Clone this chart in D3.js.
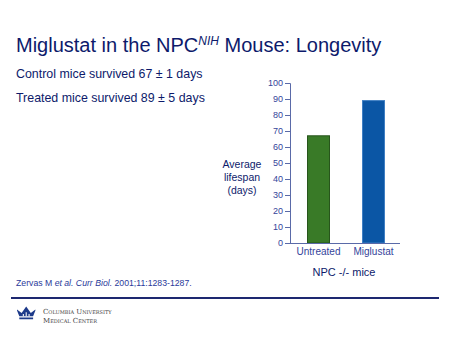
<!DOCTYPE html>
<html>
<head>
<meta charset="utf-8">
<script src="https://cdn.jsdelivr.net/npm/d3@7"></script>
<style>
  body { margin: 0; background: #fff; }
  svg { display: block; font-family: Arial, "Liberation Sans", sans-serif; }
</style>
</head>
<body>
<div id="chart"></div>
<script>
// data
var groups = ["Untreated", "Miglustat"];
var lifespan = [67, 89];
var barColors = ["#397a27", "#0b56a5"];
var barEdges = ["#27551b", "#3f7fc4"];
var yTicks = [0, 10, 20, 30, 40, 50, 60, 70, 80, 90, 100];

var width = 450, height = 338;
var navy = "#0d1a6b";
var font = "Arial, 'Liberation Sans', sans-serif";

var svg = d3.select("#chart").append("svg")
  .attr("width", width)
  .attr("height", height);

// title
var title = svg.append("text")
  .attr("x", 16).attr("y", 52)
  .style("font-size", "20px")
  .style("fill", navy);
title.append("tspan").text("Miglustat in the NPC");
title.append("tspan").attr("dy", -7).style("font-size", "12px").style("font-style", "italic").text("NIH");
title.append("tspan").attr("dy", 7).text(" Mouse: Longevity");

svg.append("text").attr("x", 16).attr("y", 78)
  .style("font-size", "12.4px").style("fill", navy)
  .text("Control mice survived 67 \u00b1 1 days");
svg.append("text").attr("x", 16).attr("y", 102)
  .style("font-size", "12.4px").style("fill", navy)
  .text("Treated mice survived 89 \u00b1 5 days");

// chart
var x = d3.scaleBand().domain(groups).range([291, 401]).paddingInner(0.6).paddingOuter(0.3);
var y = d3.scaleLinear().domain([0, 100]).range([243, 83]);

var g = svg.append("g");

g.selectAll("rect.bar")
  .data(groups)
  .enter()
  .append("rect")
  .attr("class", "bar")
  .attr("x", d => x(d))
  .attr("y", (d, i) => y(lifespan[i]))
  .attr("width", x.bandwidth())
  .attr("height", (d, i) => y(0) - y(lifespan[i]))
  .style("fill", (d, i) => barColors[i])
  .style("stroke", (d, i) => barEdges[i])
  .style("stroke-width", 1);

var yAxis = g.append("g")
  .attr("transform", "translate(290,0)")
  .call(d3.axisLeft(y).tickValues(yTicks).tickSize(5).tickSizeOuter(3).tickPadding(2));
yAxis.selectAll("text").style("font-size", "9px").style("fill", "#34449a").style("font-family", font);
yAxis.selectAll("line, path").style("stroke", "#5a6aa8");

var xAxis = g.append("g")
  .attr("transform", "translate(0,243)")
  .call(d3.axisBottom(x).tickSize(0).tickSizeOuter(0).tickPadding(5));
xAxis.selectAll("text").style("font-size", "10px").style("fill", "#34449a").style("font-family", font);
xAxis.select("path").attr("d", "M290,0.5H400").style("stroke", "#5a6aa8");

// y axis title
var yt = svg.append("text")
  .attr("text-anchor", "middle")
  .style("font-size", "10.5px").style("fill", navy);
["Average", "lifespan", "(days)"].forEach(function(s, i) {
  yt.append("tspan").attr("x", 242).attr("y", 168 + i * 13).text(s);
});

svg.append("text")
  .attr("x", 344).attr("y", 276)
  .attr("text-anchor", "middle")
  .style("font-size", "11px").style("fill", navy)
  .text("NPC -/- mice");

// citation
var cite = svg.append("text").attr("x", 16).attr("y", 286)
  .style("font-size", "8.7px").style("fill", "#2a3a9a");
cite.append("tspan").text("Zervas M ");
cite.append("tspan").style("font-style", "italic").text("et al. Curr Biol.");
cite.append("tspan").text(" 2001;11:1283-1287.");

svg.append("line")
  .attr("x1", 11).attr("x2", 439).attr("y1", 298).attr("y2", 298)
  .style("stroke", "#1d2870").style("stroke-width", 2);

// Columbia logo
var logo = svg.append("g").attr("transform", "translate(17,306) scale(1.15)");
logo.append("path")
  .attr("d", "M0,3 L4,6 L8,0.5 L12,6 L16,3 L16,4 L14,9 L2,9 L0,4 Z M2,10 L14,10 L14,11.5 L2,11.5 Z")
  .style("fill", "#1d3a8a");
logo.append("path")
  .attr("d", "M5.5,7 L5.5,9 M8,5.5 L8,9 M10.5,7 L10.5,9")
  .style("stroke", "#fff").style("stroke-width", 0.9);

svg.append("text").attr("x", 43).attr("y", 314)
  .style("font-family", "'DejaVu Serif', 'Liberation Serif', serif")
  .style("font-size", "7px").style("fill", "#444").style("font-variant", "small-caps")
  .text("Columbia University");
svg.append("text").attr("x", 43).attr("y", 323)
  .style("font-family", "'DejaVu Serif', 'Liberation Serif', serif")
  .style("font-size", "7px").style("fill", "#444").style("font-variant", "small-caps")
  .text("Medical Center");
</script>
</body>
</html>
